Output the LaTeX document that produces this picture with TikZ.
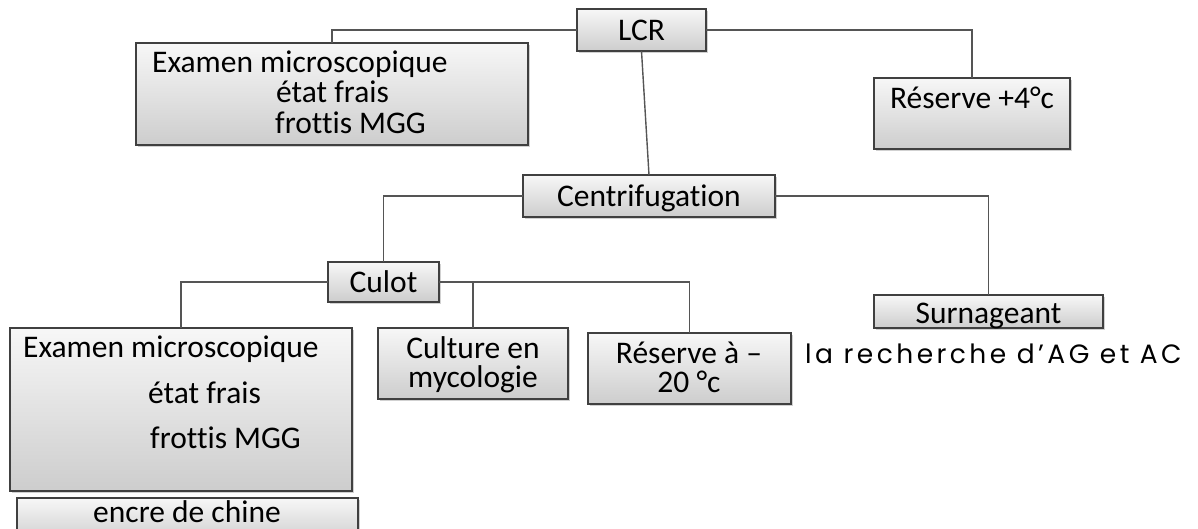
\documentclass[tikz,border=0pt]{standalone}
\usepackage{fontspec}
\setmainfont{Carlito}[Ligatures=NoCommon]
\newfontfamily\gothicfont{Poppins}[LetterSpace=13]
\usepackage{tikz}
\usetikzlibrary{shadows}
\usetikzlibrary{positioning}
\definecolor{boxline}{HTML}{404040}
\definecolor{linkgray}{HTML}{555555}
\definecolor{boxtop}{HTML}{F7F7F7}
\definecolor{boxbot}{HTML}{CDCDCD}

\begin{document}
\begin{tikzpicture}[x=1pt, y=-1pt,
        box/.style={draw=boxline, line width=1.4pt, top color=boxtop, bottom color=boxbot,
            inner sep=0pt, outer sep=0pt, anchor=north west,
            drop shadow={shadow xshift=1.5pt, shadow yshift=-1.5pt, opacity=0.3, fill=black!60},
            font=\fontsize{31.5}{37}\selectfont, text height=20pt, text depth=0pt},
        txt/.style={inner sep=0pt, anchor=base west, font=\fontsize{31.5}{37}\selectfont},
        ctxt/.style={txt, anchor=base},
        link/.style={draw=linkgray, line width=1.4pt}]
        \useasboundingbox (0,0) rectangle (1198,528);

        \node[box, minimum width=129, minimum height=42] (lcr) at (577,9) {LCR};
        \node[box, minimum width=392, minimum height=102] (ex1) at (136,43) {};
        \node[txt] (ex1a) at (152,72) {Examen microscopique};
        \node[txt] (ex1b) at (276,102) {état frais};
        \node[txt] (ex1c) at (275,133) {frottis MGG};
        \node[box, minimum width=196, minimum height=71] (res4) at (874,78) {};
        \node[ctxt] (res4t) at (972,108) {Réserve +4°c};

        \node[box, minimum width=252, minimum height=42] (cent) at (523,175) {Centrifugation};
        \node[box, minimum width=111, minimum height=40] (culot) at (328,262) {Culot};
        \node[box, minimum width=229, minimum height=33, text height=23pt] (surn) at (874,295) {Surnageant};
        \node[inner sep=0pt, anchor=base west, font=\gothicfont\fontsize{26.5}{30}\selectfont] (rech) at (805,363) {la recherche d’AG et AC};

        \node[box, minimum width=342, minimum height=163] (ex2) at (10,328) {};
        \node[txt] (ex2a) at (23,357) {Examen microscopique};
        \node[txt] (ex2b) at (148,403) {état frais};
        \node[txt] (ex2c) at (150,448) {frottis MGG};
        \node[box, minimum width=341, minimum height=45] (encre) at (17,498) {};
        \node[ctxt] (encret) at (187,522) {encre de chine};

        \node[box, minimum width=190, minimum height=71] (cult) at (378,328) {};
        \node[ctxt] (culta) at (473,358) {Culture en};
        \node[ctxt] (cultb) at (473,387) {mycologie};
        \node[box, minimum width=203, minimum height=71] (res20) at (588,333) {};
        \node[ctxt] (res20a) at (689,363) {Réserve à –};
        \node[ctxt] (res20b) at (689,392) {20 °c};

        \draw[link] (lcr.west) -| (ex1.north);
        \draw[link] (lcr.east) -| (res4.north);
        \draw[link] (lcr.south) -- (cent.north);
        \draw[link] (cent.west) -| (culot.north);
        \draw[link] (cent.east) -| (surn.north);
        \draw[link] (culot.west) -| (ex2.north);
        \draw[link] (culot.east) -| (res20.north);
        \draw[link] (cult.north) -- (cult.north |- culot.east);
    \end{tikzpicture}
\end{document}
